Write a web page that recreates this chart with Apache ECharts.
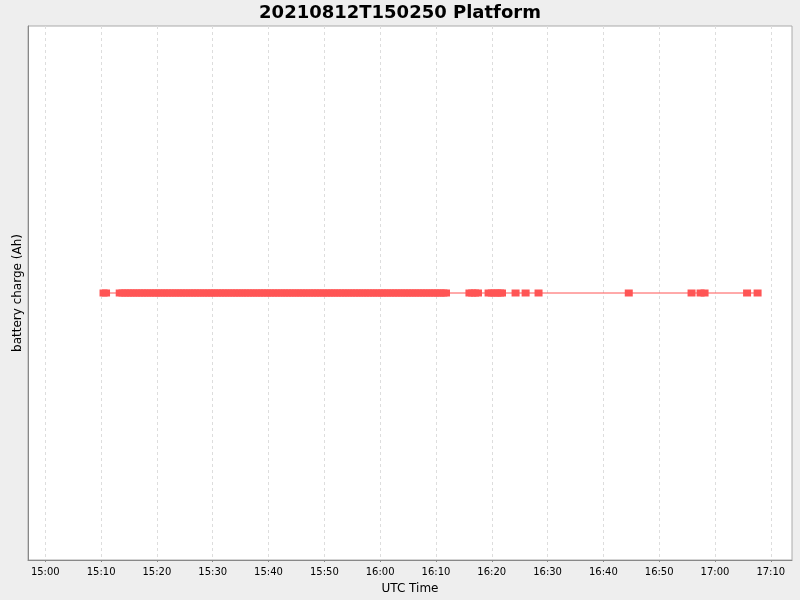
<!DOCTYPE html>
<html>
<head>
<meta charset="utf-8">
<script src="https://cdn.jsdelivr.net/npm/echarts@6/dist/echarts.min.js"></script>
<style>
    html, body { margin: 0; padding: 0; background: #eeeeee; }
    #main { width: 800px; height: 600px; }
</style>
</head>
<body>
<div id="main"></div>
<script>
// sample times (UTC, 2021-08-12)
var sampleTimes = [
    '15:10:26', '15:10:53',
    '15:13:20', '15:13:50', '15:14:20', '15:14:50', '15:15:20', '15:15:50', '15:16:20', '15:16:50',
    '15:17:20', '15:17:50', '15:18:20', '15:18:50', '15:19:20', '15:19:50', '15:20:20', '15:20:50',
    '15:21:20', '15:21:50', '15:22:20', '15:22:50', '15:23:20', '15:23:50', '15:24:20', '15:24:50',
    '15:25:20', '15:25:50', '15:26:20', '15:26:50', '15:27:20', '15:27:50', '15:28:20', '15:28:50',
    '15:29:20', '15:29:50', '15:30:20', '15:30:50', '15:31:20', '15:31:50', '15:32:20', '15:32:50',
    '15:33:20', '15:33:50', '15:34:20', '15:34:50', '15:35:20', '15:35:50', '15:36:20', '15:36:50',
    '15:37:20', '15:37:50', '15:38:20', '15:38:50', '15:39:20', '15:39:50', '15:40:20', '15:40:50',
    '15:41:20', '15:41:50', '15:42:20', '15:42:50', '15:43:20', '15:43:50', '15:44:20', '15:44:50',
    '15:45:20', '15:45:50', '15:46:20', '15:46:50', '15:47:20', '15:47:50', '15:48:20', '15:48:50',
    '15:49:20', '15:49:50', '15:50:20', '15:50:50', '15:51:20', '15:51:50', '15:52:20', '15:52:50',
    '15:53:20', '15:53:50', '15:54:20', '15:54:50', '15:55:20', '15:55:50', '15:56:20', '15:56:50',
    '15:57:20', '15:57:50', '15:58:20', '15:58:50', '15:59:20', '15:59:50', '16:00:20', '16:00:50',
    '16:01:20', '16:01:50', '16:02:20', '16:02:50', '16:03:20', '16:03:50', '16:04:20', '16:04:50',
    '16:05:20', '16:05:50', '16:06:20', '16:06:50', '16:07:20', '16:07:50', '16:08:20', '16:08:50',
    '16:09:20', '16:09:50', '16:10:20', '16:10:50', '16:11:20', '16:11:48',
    '16:16:00', '16:16:30', '16:17:00', '16:17:32', '16:19:26', '16:20:00', '16:20:30', '16:21:00',
    '16:21:30', '16:21:50', '16:24:16', '16:26:04', '16:28:23', '16:44:33', '16:55:48', '16:57:25',
    '16:58:08', '17:05:45', '17:07:38'
];
// battery charge (Ah), constant over the run
var chargeValues = [
    0, 0,
    0, 0, 0, 0, 0, 0, 0, 0,
    0, 0, 0, 0, 0, 0, 0, 0,
    0, 0, 0, 0, 0, 0, 0, 0,
    0, 0, 0, 0, 0, 0, 0, 0,
    0, 0, 0, 0, 0, 0, 0, 0,
    0, 0, 0, 0, 0, 0, 0, 0,
    0, 0, 0, 0, 0, 0, 0, 0,
    0, 0, 0, 0, 0, 0, 0, 0,
    0, 0, 0, 0, 0, 0, 0, 0,
    0, 0, 0, 0, 0, 0, 0, 0,
    0, 0, 0, 0, 0, 0, 0, 0,
    0, 0, 0, 0, 0, 0, 0, 0,
    0, 0, 0, 0, 0, 0, 0, 0,
    0, 0, 0, 0, 0, 0, 0, 0,
    0, 0, 0, 0, 0, 0,
    0, 0, 0, 0, 0, 0, 0, 0,
    0, 0, 0, 0, 0, 0, 0, 0,
    0, 0, 0
];
// x tick labels
var tickLabels = ['15:00', '15:10', '15:20', '15:30', '15:40', '15:50', '16:00',
    '16:10', '16:20', '16:30', '16:40', '16:50', '17:00', '17:10'];
var axisStart = '14:56:54';
var axisEnd = '17:13:48';

// minutes after 15:00
function toMin(t) {
    var p = t.split(':');
    return (parseInt(p[0], 10) - 15) * 60 + parseInt(p[1], 10) + (p[2] ? parseInt(p[2], 10) / 60 : 0);
}
function toLabel(m) {
    var h = 15 + Math.floor(Math.round(m) / 60);
    var mm = Math.round(m) % 60;
    return h + ':' + (mm < 10 ? '0' + mm : mm);
}

var points = [];
for (var i = 0; i < sampleTimes.length; i++) {
    points.push([toMin(sampleTimes[i]), chargeValues[i]]);
}
var tickVals = [];
for (var j = 0; j < tickLabels.length; j++) {
    tickVals.push(toMin(tickLabels[j]));
}

var myChart = echarts.init(document.getElementById('main'));
var option = {
    backgroundColor: '#eeeeee',
    animation: false,
    title: {
        text: '20210812T150250 Platform',
        left: 'center',
        top: -1,
        textStyle: { fontFamily: 'DejaVu Sans', fontWeight: 'bold', fontSize: 18, color: '#000' }
    },
    grid: {
        left: 28, right: 8, top: 26, bottom: 39,
        show: true,
        backgroundColor: '#ffffff',
        borderColor: '#aaaaaa',
        borderWidth: 1
    },
    xAxis: {
        type: 'value',
        min: toMin(axisStart),
        max: toMin(axisEnd),
        name: 'UTC Time',
        nameLocation: 'middle',
        nameGap: 23,
        nameTextStyle: { fontFamily: 'DejaVu Sans', fontSize: 12, color: '#000' },
        axisLine: { show: true, onZero: false, lineStyle: { color: '#888888' } },
        axisTick: { show: true, length: 2, customValues: tickVals, lineStyle: { color: '#888888' } },
        axisLabel: {
            customValues: tickVals,
            margin: 7,
            fontFamily: 'DejaVu Sans',
            fontSize: 10,
            color: '#000',
            formatter: function (v) { return toLabel(v); }
        },
        splitLine: { show: true, lineStyle: { color: '#dddddd', type: [3, 3], width: 1 } }
    },
    yAxis: {
        type: 'value',
        min: -1,
        max: 1,
        name: 'battery charge (Ah)',
        nameLocation: 'middle',
        nameRotate: 90,
        nameGap: 4,
        nameTextStyle: { fontFamily: 'DejaVu Sans', fontSize: 12, color: '#000' },
        axisLine: { show: true, onZero: false, lineStyle: { color: '#888888' } },
        axisTick: { show: false },
        axisLabel: { show: false },
        splitLine: { show: false }
    },
    series: [{
        name: 'battery charge',
        type: 'line',
        data: points,
        symbol: 'rect',
        symbolSize: [8, 7],
        showAllSymbol: true,
        itemStyle: { color: '#ff5555' },
        lineStyle: { color: '#ff5555', width: 1 }
    }]
};
myChart.setOption(option);
</script>
</body>
</html>
